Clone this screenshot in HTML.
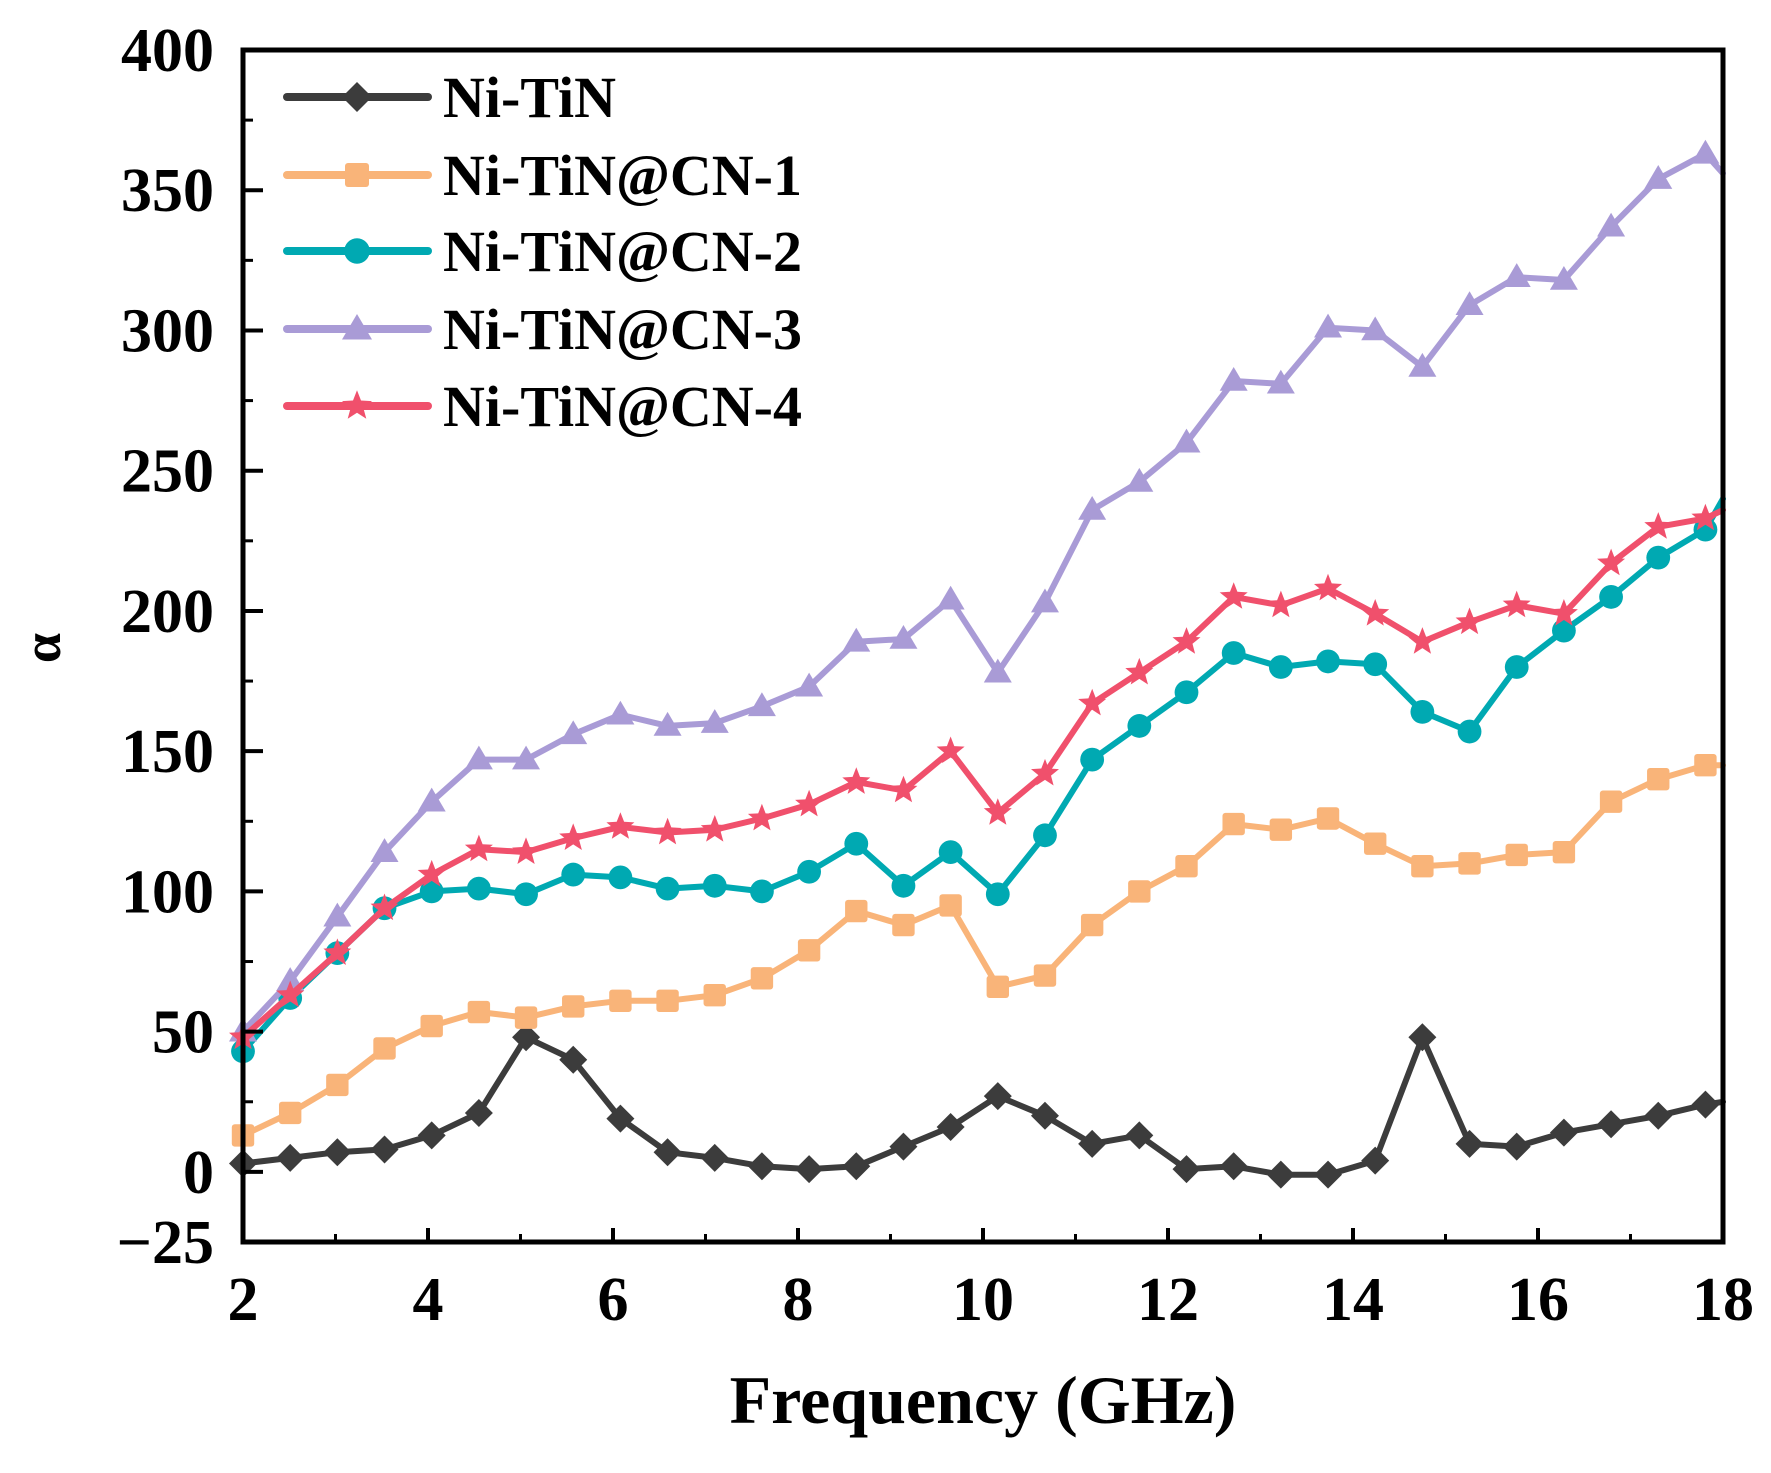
<!DOCTYPE html>
<html><head><meta charset="utf-8"><style>
html,body{margin:0;padding:0;background:#fff;}
svg text{font-family:"Liberation Serif",serif;font-weight:bold;fill:#000;}
</style></head><body>
<svg id="chart" width="1771" height="1468" viewBox="0 0 1771 1468" xmlns="http://www.w3.org/2000/svg">
<g id="plot"></g>
<g id="axes"></g>
<g id="legend"></g>
<text x="983" y="1423" font-size="68" text-anchor="middle">Frequency (GHz)</text>
<text x="60" y="648" font-size="54" text-anchor="middle" transform="rotate(-90 60 648)">α</text>
</svg>
<script>
const freqs = [2,2.51,3.02,3.53,4.04,4.55,5.06,5.57,6.08,6.59,7.1,7.61,8.12,8.63,9.14,9.65,10.16,10.67,11.18,11.69,12.2,12.71,13.22,13.73,14.24,14.75,15.26,15.77,16.28,16.79,17.3,17.81,18];
const niTiN = [3,5,7,8,13,21,48,40,19,7,5,2,1,2,9,16,27,20,10,13,1,2,-1,-1,4,48,10,9,14,17,20,24,25];
const cn1 = [13,21,31,44,52,57,55,59,61,61,63,69,79,93,88,95,66,70,88,100,109,124,122,126,117,109,110,113,114,132,140,145,145];
const cn2 = [43,62,78,94,100,101,99,106,105,101,102,100,107,117,102,114,99,120,147,159,171,185,180,182,181,164,157,180,193,205,219,229,240];
const cn3 = [50,68,91,114,132,147,147,156,163,159,160,166,173,189,190,204,178,203,236,246,260,282,281,301,300,287,309,319,318,337,354,363,356];
const cn4 = [48,63,78,94,106,115,114,119,123,121,122,126,131,139,136,150,128,142,167,178,189,205,202,208,199,189,196,202,199,217,230,233,236];
const seriesNames = ["Ni-TiN","Ni-TiN@CN-1","Ni-TiN@CN-2","Ni-TiN@CN-3","Ni-TiN@CN-4"];
const xTicks = [2,4,6,8,10,12,14,16,18];
const yTicks = [-25,0,50,100,150,200,250,300,350,400];

const NS="http://www.w3.org/2000/svg";
const X0=243,X1=1723,Y0=1242,Y1=50;
const xs=v=>X0+(v-2)/16*(X1-X0);
const ys=v=>Y0-(v+25)/425*(Y0-Y1);
function mk(tag,attrs,parent){const e=document.createElementNS(NS,tag);for(const k in attrs)e.setAttribute(k,attrs[k]);parent.appendChild(e);return e;}
const plot=document.getElementById('plot'),axes=document.getElementById('axes'),legend=document.getElementById('legend');
const colors=["#3c3c3c","#f9b479","#00a9b2","#a99bd6","#f0506c"];
const shapes=["diamond","square","circle","triangle","star"];
function marker(shape,cx,cy,s,color,parent){
  let e;
  if(shape==="diamond") e=mk('polygon',{points:`${cx},${cy-s} ${cx+s},${cy} ${cx},${cy+s} ${cx-s},${cy}`,fill:color},parent);
  else if(shape==="square") e=mk('rect',{x:cx-s*0.8,y:cy-s*0.8,width:s*1.6,height:s*1.6,rx:3,fill:color},parent);
  else if(shape==="circle") e=mk('circle',{cx:cx,cy:cy,r:s*0.85,fill:color},parent);
  else if(shape==="triangle") e=mk('polygon',{points:`${cx},${cy-s} ${cx+s},${cy+s*0.7} ${cx-s},${cy+s*0.7}`,fill:color},parent);
  else {let p=[];for(let i=0;i<10;i++){const r=i%2?s*0.45:s*1.05;const a=-Math.PI/2+i*Math.PI/5;p.push((cx+r*Math.cos(a)).toFixed(1)+","+(cy+r*Math.sin(a)).toFixed(1));}
    e=mk('polygon',{points:p.join(' '),fill:color},parent);}
  return e;
}
const data=[niTiN,cn1,cn2,cn3,cn4];
data.forEach((arr,si)=>{
  const g=mk('g',{},plot);
  
  
  const d=arr.map((v,i)=>(i?'L':'M')+xs(freqs[i]).toFixed(1)+' '+ys(v).toFixed(1)).join(' ');
  const path=mk('path',{d:d,fill:'none',stroke:colors[si],'stroke-width':6,'stroke-linejoin':'round','stroke-linecap':'round'},g);
  
  
  arr.forEach((v,i)=>{
    if(i===arr.length-1) return;
    const m=marker(shapes[si],xs(freqs[i]),ys(v),14,colors[si],g);
    
    
  });
});
const fr=mk('rect',{x:X0,y:Y1,width:X1-X0,height:Y0-Y1,fill:'none',stroke:'#000','stroke-width':5},axes);


xTicks.forEach(t=>{
  mk('line',{x1:xs(t),x2:xs(t),y1:Y0,y2:Y0-14,stroke:'#000','stroke-width':4},axes);
  if(t<18) mk('line',{x1:xs(t+1),x2:xs(t+1),y1:Y0,y2:Y0-8,stroke:'#000','stroke-width':3},axes);
  const tx=mk('text',{x:xs(t),y:1320,'font-size':62,'text-anchor':'middle'},axes);
  tx.textContent=t;
  
  
});
yTicks.forEach(t=>{
  mk('line',{x1:X0,x2:X0+20,y1:ys(t),y2:ys(t),stroke:'#000','stroke-width':4},axes);
  if(t>=0&&t<400) mk('line',{x1:X0,x2:X0+10,y1:ys(t+25),y2:ys(t+25),stroke:'#000','stroke-width':3},axes);
  const tx=mk('text',{x:214,y:ys(t)+21,'font-size':62,'text-anchor':'end'},axes);
  tx.textContent=t<0?'\u2212'+Math.abs(t):t;
  
  
});
const legY=[97,175,251,329,406];
seriesNames.forEach((n,i)=>{
  const g=mk('g',{},legend);
  
  
  mk('line',{x1:287,x2:428,y1:legY[i],y2:legY[i],stroke:colors[i],'stroke-width':8,'stroke-linecap':'round'},g);
  marker(shapes[i],357,legY[i],15,colors[i],g);
  const tx=mk('text',{x:443,y:legY[i]+20,'font-size':58},g);
  tx.textContent=n;
});
</script>
</body></html>
